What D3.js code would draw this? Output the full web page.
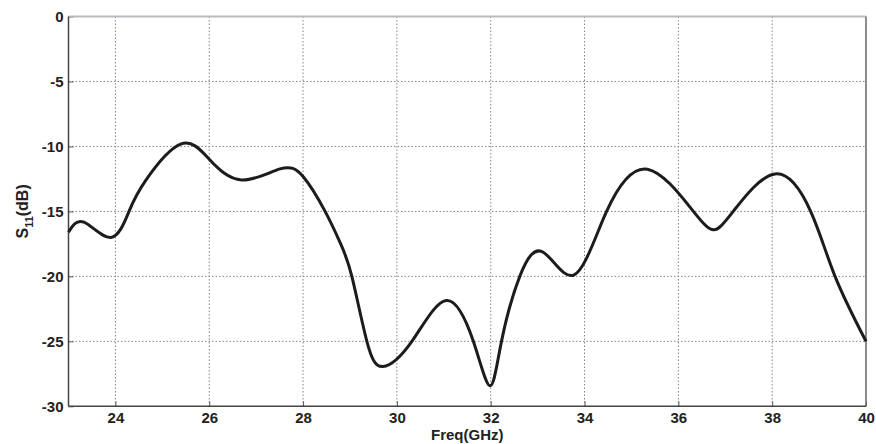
<!DOCTYPE html>
<html>
<head>
<meta charset="utf-8">
<script src="https://cdn.jsdelivr.net/npm/d3@7"></script>
<style>
  html, body { margin: 0; padding: 0; background: #fff; }
  svg { display: block; }
  text { font-family: "Liberation Sans", Arial, sans-serif; font-weight: bold; fill: #222; }
</style>
</head>
<body>
<svg id="chart" width="876" height="444"></svg>
<script>
// Measured return loss S11 versus frequency
const freqGHz = [23.0, 23.33, 23.9, 24.29, 24.65, 25.39, 26.0, 26.69, 27.51, 28.0,
                 28.47, 28.79, 29.04, 29.36, 29.70, 30.32, 31.05, 31.63, 31.985,
                 32.23, 32.62, 33.12, 33.78, 34.47, 35.34, 36.32, 36.76,
                 37.17, 38.06, 38.82, 39.34, 40.0];
const s11dB = [-16.6, -15.83, -17.0, -15.0, -12.6, -9.83, -10.98, -12.58, -11.73, -12.32,
               -15.0, -17.4, -20.0, -25.0, -26.94, -25.0, -21.86, -25.0, -28.42,
               -25.0, -20.0, -18.14, -19.88, -15.0, -11.75, -15.0, -16.42,
               -15.0, -12.12, -15.0, -20.0, -25.0];
const xTicks = [24, 26, 28, 30, 32, 34, 36, 38, 40];
const yTicks = [0, -5, -10, -15, -20, -25, -30];

const svg = d3.select("#chart");
const plotL = 68.5, plotR = 866, plotT = 16.5, plotB = 406.3;

const x = d3.scaleLinear().domain([23, 40]).range([plotL, plotR]);
const y = d3.scaleLinear().domain([-30, 0]).range([plotB, plotT]);

// grid
const grid = svg.append("g");
grid.selectAll("line.gx").data(xTicks.filter(t => t < 40)).join("line")
  .attr("class", "gx")
  .attr("x1", d => x(d)).attr("x2", d => x(d))
  .attr("y1", plotT).attr("y2", plotB)
  .attr("stroke", "#7d8792").attr("stroke-width", 1)
  .attr("stroke-dasharray", "1.5,2");
grid.selectAll("line.gy").data(yTicks.filter(t => t > -30 && t < 0)).join("line")
  .attr("class", "gy")
  .attr("x1", plotL).attr("x2", plotR)
  .attr("y1", d => y(d)).attr("y2", d => y(d))
  .attr("stroke", "#7d8792").attr("stroke-width", 1)
  .attr("stroke-dasharray", "1.5,2");

// axes (tick marks drawn inward, labels bold)
const xAxis = d3.axisBottom(x).tickValues(xTicks).tickSize(-5).tickPadding(6).tickFormat(d3.format("d"));
const yAxis = d3.axisLeft(y).tickValues(yTicks).tickSize(-5).tickPadding(5).tickFormat(d => String(d));

const gx = svg.append("g").attr("transform", `translate(0,${plotB})`).call(xAxis);
const gy = svg.append("g").attr("transform", `translate(${plotL},0)`).call(yAxis);
[gx, gy].forEach(g => {
  g.select(".domain").remove();
  g.selectAll(".tick line").attr("stroke", "#555").attr("stroke-width", 1);
  g.selectAll(".tick text").style("font-size", "15px").style("font-weight", "bold").attr("fill", "#222");
});

// frame
svg.append("line").attr("x1", plotL).attr("x2", plotR).attr("y1", plotT).attr("y2", plotT)
  .attr("stroke", "#b8bcc0").attr("stroke-width", 2);
svg.append("line").attr("x1", plotR).attr("x2", plotR).attr("y1", plotT).attr("y2", plotB)
  .attr("stroke", "#666").attr("stroke-width", 1.5);
svg.append("line").attr("x1", plotL).attr("x2", plotL).attr("y1", plotT).attr("y2", plotB)
  .attr("stroke", "#444").attr("stroke-width", 1.5);
svg.append("line").attr("x1", plotL).attr("x2", plotR).attr("y1", plotB).attr("y2", plotB)
  .attr("stroke", "#444").attr("stroke-width", 1.5);

// curve
const pts = freqGHz.map((f, i) => [f, s11dB[i]]);
const line = d3.line().x(d => x(d[0])).y(d => y(d[1])).curve(d3.curveNatural);
svg.append("path").datum(pts)
  .attr("d", line)
  .attr("fill", "none")
  .attr("stroke", "#1c1c1c")
  .attr("stroke-width", 3)
  .attr("stroke-linejoin", "round");

// axis titles
svg.append("text")
  .attr("x", (plotL + plotR) / 2).attr("y", 440)
  .attr("text-anchor", "middle")
  .style("font-size", "15px")
  .text("Freq(GHz)");

const yl = svg.append("text")
  .attr("transform", `translate(28,${(plotT + plotB) / 2}) rotate(-90)`)
  .attr("text-anchor", "middle")
  .style("font-size", "16px");
yl.append("tspan").text("S");
yl.append("tspan").attr("dy", 5).style("font-size", "11px").text("11");
yl.append("tspan").attr("dy", -5).text("(dB)");
</script>
</body>
</html>
